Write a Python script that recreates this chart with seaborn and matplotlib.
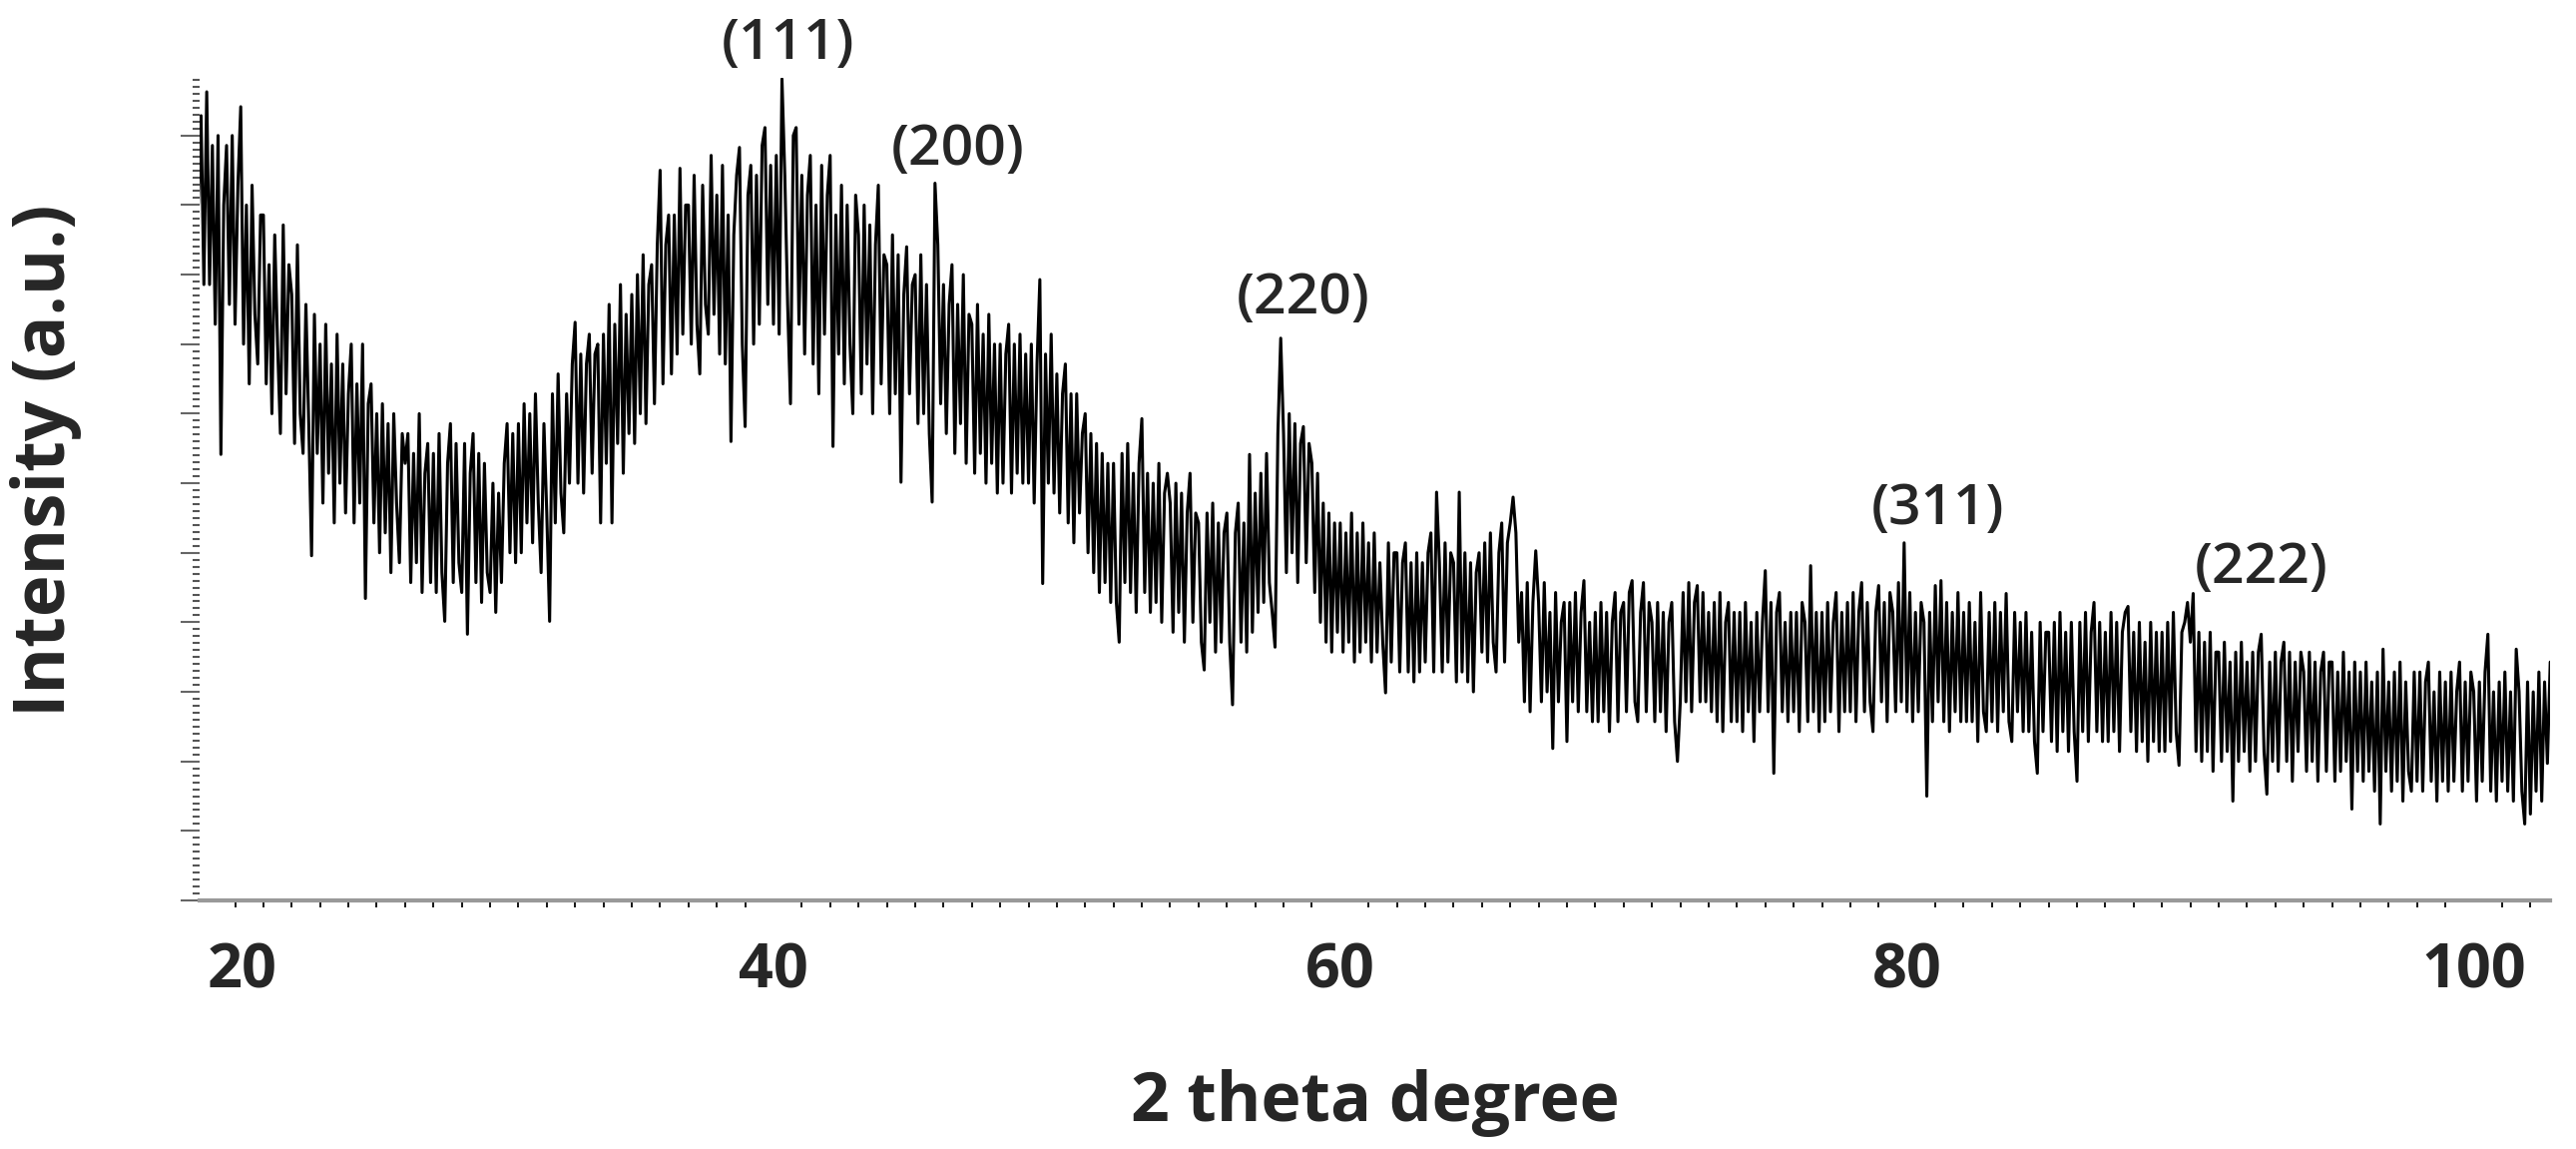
import matplotlib

matplotlib.use("Agg")
import matplotlib.pyplot as plt
import numpy as np
import seaborn as sns
from matplotlib.ticker import MultipleLocator, NullFormatter

# %%
# XRD scan, 0.1 deg step starting at 19.7 deg (intensity, a.u.)
scan_start = 19.7
scan_step = 0.1

counts_lo = [
    700, 790, 620,
    814, 620, 760, 580, 770, 449, 700, 760, 600, 770,
    580, 720, 799, 560, 700, 520, 720, 590, 540, 690,
    690, 520, 640, 490, 670, 560, 470, 680, 510, 640,
    610, 460, 660, 490, 450, 600, 480, 347, 590, 450,
    560, 400, 580, 430, 540, 380, 570, 420, 540, 390,
    510, 560, 380, 520, 400, 560, 304, 500, 520, 380,
    490, 350, 500, 370, 480, 330, 490, 400, 340, 470,
    440, 470, 320, 450, 340, 490, 310, 430, 460, 320,
    450, 310, 470, 330, 281, 440, 480, 320, 460, 340,
    310, 460, 268, 430, 470, 320, 450, 300, 440, 330,
    310, 420, 290, 410, 320, 440, 480, 350, 470, 340,
    480, 350, 500, 380, 490, 360, 510, 400, 330, 480,
    390, 281, 510, 380, 530, 410, 370, 510, 420, 540,
    582, 420, 550, 410, 540, 570, 430, 550, 560, 380,
    570, 440, 600, 380, 580, 460, 620, 430, 590, 470,
    610, 460, 630, 490, 650, 480, 620, 640, 500, 660,
    735, 520, 660, 690, 530, 690, 550, 737, 570, 700,
    700, 560, 730, 580, 530, 720, 600, 570, 750, 590,
    710, 550, 740, 540, 690, 462, 670, 730, 758, 560,
    477, 710, 740, 560, 730, 580, 760, 778, 600, 740,
]

counts_mid = [
    580, 750, 570, 827, 730, 600, 500, 770, 778, 580,
    730, 550, 710, 750, 540, 700, 510, 740, 570, 710,
    750, 457, 690, 550, 720, 520, 700, 560, 490, 710,
    670, 510, 700, 540, 680, 490, 660, 720, 520, 650,
    640, 490, 670, 510, 650, 421, 610, 658, 510, 620,
    630, 480, 650, 490, 620, 470, 401, 722, 660, 500,
    620, 470, 600, 640, 450, 600, 480, 630, 440, 590,
    580, 430, 600, 450, 570, 420, 590, 440, 560, 410,
    560, 420, 550, 580, 410, 560, 430, 570, 420, 550,
    420, 560, 400, 540, 625, 319, 550, 420, 570, 410,
    530, 390, 510, 540, 380, 510, 360, 510, 390, 470,
    490, 350, 470, 330, 460, 310, 450, 320, 440, 300,
    440, 300, 260, 450, 320, 460, 310, 430, 290, 440,
    485, 310, 430, 290, 420, 300, 440, 280, 410, 430,
    400, 270, 420, 290, 410, 260, 390, 430, 280, 390,
    380, 260, 232, 390, 280, 400, 250, 380, 260, 370,
    390, 260, 197, 370, 400, 260, 380, 250, 449, 270,
    410, 290, 430, 300, 450, 320, 290, 255, 470, 566,
    470, 330, 490, 350, 480, 320, 460, 477, 340, 460,
    440, 310, 430, 280, 400, 260, 390, 250, 380, 270,
]

counts_hi = [
    380, 250, 370, 260, 390, 240, 370, 250, 380, 260,
    360, 240, 370, 250, 340, 260, 209, 360, 240, 350,
    350, 230, 340, 360, 230, 340, 220, 350, 230, 340,
    240, 350, 370, 230, 411, 340, 230, 360, 240, 350,
    340, 220, 411, 230, 350, 220, 340, 210, 330, 350,
    250, 360, 240, 370, 260, 230, 350, 380, 240, 360,
    380, 406, 370, 260, 310, 200, 320, 190, 300, 352,
    300, 200, 320, 210, 290, 153, 310, 200, 280, 300,
    160, 300, 200, 310, 190, 290, 322, 190, 280, 180,
    290, 180, 300, 190, 290, 170, 280, 310, 180, 290,
    300, 190, 310, 322, 200, 180, 290, 320, 190, 300,
    280, 180, 300, 190, 290, 170, 280, 300, 180, 140,
    200, 310, 200, 320, 190, 300, 317, 200, 310, 200,
    290, 190, 300, 180, 310, 170, 280, 300, 180, 290,
    180, 290, 170, 300, 190, 280, 160, 290, 190, 280,
    332, 190, 300, 128, 290, 310, 190, 280, 180, 290,
    190, 290, 170, 300, 280, 180, 337, 190, 290, 170,
    290, 180, 300, 190, 280, 310, 170, 290, 190, 300,
    190, 310, 180, 290, 320, 190, 300, 200, 170, 290,
    317, 200, 300, 180, 310, 290, 190, 320, 200, 360,
]

counts_tail = [
    190, 310, 180, 290, 190, 300, 280, 105, 290, 180,
    317, 200, 322, 180, 300, 170, 290, 190, 310, 180,
    290, 180, 300, 180, 280, 160, 310, 190, 170, 290,
    180, 300, 170, 290, 190, 309, 180, 160, 290, 190,
    280, 170, 290, 170, 270, 160, 128, 280, 170, 270,
    270, 160, 280, 150, 290, 170, 270, 150, 280, 170,
    120, 280, 170, 290, 160, 270, 300, 170, 280, 160,
    270, 160, 290, 170, 280, 150, 270, 290, 296, 170,
    270, 150, 280, 160, 260, 140, 280, 160, 270, 150,
    270, 150, 280, 160, 290, 170, 136, 270, 280, 300,
    260, 309, 150, 270, 140, 260, 150, 270, 130, 250,
    250, 140, 260, 150, 240, 100, 250, 140, 260, 150,
    240, 130, 250, 140, 250, 268, 150, 107, 240, 140,
    250, 130, 240, 260, 140, 250, 120, 240, 150, 250,
    230, 130, 250, 140, 240, 120, 230, 250, 130, 240,
    240, 120, 230, 130, 250, 140, 230, 92, 240, 130,
    230, 120, 240, 130, 220, 110, 230, 77, 253, 130,
    220, 110, 230, 120, 240, 100, 220, 130, 110, 230,
    120, 230, 110, 220, 240, 120, 210, 100, 230, 120,
    220, 110, 230, 120, 210, 240, 110, 220, 120, 230,
    210, 100, 220, 120, 230, 268, 110, 210, 100, 220,
    120, 230, 110, 210, 100, 253, 210, 110, 77, 220,
    87, 210, 110, 230, 100, 220, 138, 240,
]

peak_labels = ["(111)", "(200)", "(220)", "(311)", "(222)"]
peak_label_x = [40.5, 46.5, 58.7, 81.1, 92.5]
peak_label_y = [861, 755, 605, 393, 334]

x_ticks = [20, 40, 60, 80, 100]

# %%
intensity = np.array(counts_lo + counts_mid + counts_hi + counts_tail)
two_theta = np.round(scan_start + scan_step * np.arange(len(intensity)), 2)

sns.set_style("white")
plt.rcParams["font.family"] = ["Open Sans", "DejaVu Sans"]

fig = plt.figure(figsize=(25.81, 11.51), dpi=100)
ax = fig.add_axes([0.0775, 0.2163, 0.9125, 0.7159])

sns.lineplot(x=two_theta, y=intensity, color="black", linewidth=2.2, ax=ax)

for label, lx, ly in zip(peak_labels, peak_label_x, peak_label_y):
    ax.text(lx, ly, label, ha="center", va="center", fontsize=41,
            fontweight="semibold", clip_on=False)

ax.set_xlim(19.75, 102.7)
ax.set_ylim(0, 828)

ax.set_xticks(x_ticks)
ax.xaxis.set_minor_locator(MultipleLocator(1))
ax.tick_params(axis="x", which="major", length=0, pad=30, labelsize=44)
ax.tick_params(axis="x", which="minor", direction="out", length=5,
               width=1.3, color="black", bottom=True)
for lab in ax.get_xticklabels():
    lab.set_fontweight("bold")
ax.get_xticklabels()[0].set_horizontalalignment("left")

ax.yaxis.set_major_locator(MultipleLocator(70))
ax.yaxis.set_minor_locator(MultipleLocator(7))
ax.yaxis.set_major_formatter(NullFormatter())
ax.tick_params(axis="y", which="major", direction="out", length=14,
               width=1.5, color="#666666", left=True)
ax.tick_params(axis="y", which="minor", direction="out", length=5,
               width=1.5, color="#555555", left=True)

for side in ["top", "right", "left"]:
    ax.spines[side].set_visible(False)
ax.spines["bottom"].set_color("#999999")
ax.spines["bottom"].set_linewidth(3)

ax.set_xlabel("2 theta degree", fontsize=49, fontweight="bold", labelpad=48)
ax.set_ylabel("Intensity (a.u.)", fontsize=51, fontweight="bold")
ax.yaxis.set_label_coords(-0.05, 0.535)

fig.savefig("out.png", dpi=100)
